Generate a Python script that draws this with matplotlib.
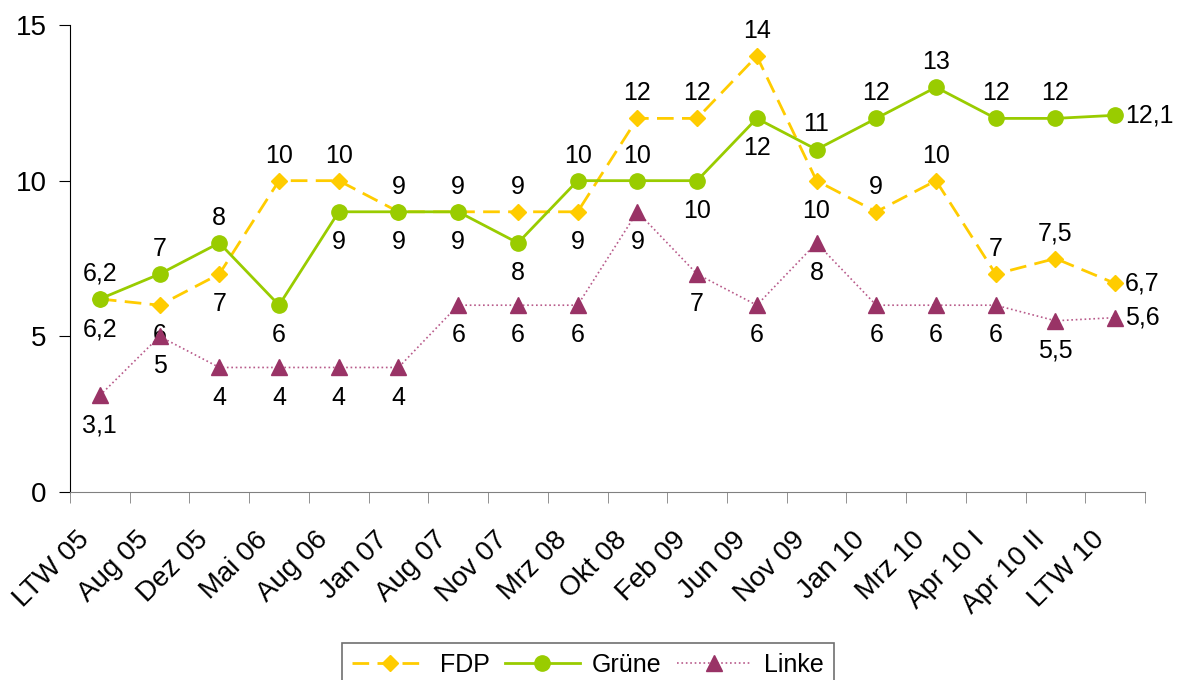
import matplotlib
matplotlib.use('Agg')
import matplotlib.pyplot as plt
import matplotlib.transforms as mtransforms
from matplotlib.ticker import FixedLocator

plt.rcParams['font.family'] = ['Liberation Sans', 'DejaVu Sans']

# Umfragewerte (Prozent)
categories = ['LTW 05', 'Aug 05', 'Dez 05', 'Mai 06', 'Aug 06', 'Jan 07', 'Aug 07',
              'Nov 07', 'Mrz 08', 'Okt 08', 'Feb 09', 'Jun 09', 'Nov 09', 'Jan 10',
              'Mrz 10', 'Apr 10 I', 'Apr 10 II', 'LTW 10']
fdp = [6.2, 6, 7, 10, 10, 9, 9, 9, 9, 12, 12, 14, 10, 9, 10, 7, 7.5, 6.7]
gruene = [6.2, 7, 8, 6, 9, 9, 9, 8, 10, 10, 10, 12, 11, 12, 13, 12, 12, 12.1]
linke = [3.1, 5, 4, 4, 4, 4, 6, 6, 6, 9, 7, 6, 8, 6, 6, 6, 5.5, 5.6]

# Lage der Datenbeschriftungen: a = oben, b = unten, r = rechts
fdp_pos = ['b', 'b', 'b', 'a', 'a', 'a', 'a', 'a', 'b', 'a', 'a', 'a', 'b', 'a', 'a', 'a', 'a', 'r']
gruene_pos = ['a', 'a', 'a', 'b', 'b', 'b', 'b', 'b', 'a', 'a', 'b', 'b', 'a', 'a', 'a', 'a', 'a', 'r']
linke_pos = ['b'] * 17 + ['r']

fig = plt.figure(figsize=(11.78, 6.8), dpi=100)
ax = fig.add_axes([70 / 1178, (680 - 492) / 680, (1145 - 70) / 1178, (492 - 25) / 680])

x = list(range(len(categories)))
ax.plot(x, fdp, color='#FFCC00', lw=2, dashes=(6, 3), marker='D', ms=8.5,
        mec='#FFCC00', label='FDP', zorder=3)
ax.plot(x, gruene, color='#99CC00', lw=2, marker='o', ms=11,
        label='Grüne', zorder=4)
ax.plot(x, linke, color='#B85A8A', lw=1.2, ls=':', marker='^', ms=12,
        mfc='#993366', mec='#993366', label='Linke', zorder=5)


def fmt(v):
    return ('%g' % v).replace('.', ',')


def labels(values, pos):
    for i, (v, p) in enumerate(zip(values, pos)):
        if p == 'a':
            ax.annotate(fmt(v), (i, v), xytext=(0, 13), textcoords='offset points',
                        ha='center', va='baseline', fontsize=18)
        elif p == 'b':
            ax.annotate(fmt(v), (i, v), xytext=(0, -13), textcoords='offset points',
                        ha='center', va='top', fontsize=18)
        else:
            ax.annotate(fmt(v), (i, v), xytext=(7, 0), textcoords='offset points',
                        ha='left', va='center', fontsize=18)


labels(fdp, fdp_pos)
labels(gruene, gruene_pos)
labels(linke, linke_pos)

ax.set_xlim(-0.5, len(categories) - 0.5)
ax.set_ylim(0, 15)
ax.set_yticks([0, 5, 10, 15])
ax.tick_params(axis='y', labelsize=20, length=8, direction='out', pad=9)

ax.set_xticks(x)
ax.set_xticklabels(categories, rotation=45, ha='right', va='top',
                   rotation_mode='anchor', fontsize=20)
ax.xaxis.set_minor_locator(FixedLocator([i - 0.5 for i in range(len(categories) + 1)]))
ax.tick_params(axis='x', which='major', length=0, pad=25)
ax.tick_params(axis='x', which='minor', length=8, color='#808080', direction='out')
shift = mtransforms.ScaledTranslation(-24 / 100, 0, fig.dpi_scale_trans)
for lab in ax.get_xticklabels():
    lab.set_transform(lab.get_transform() + shift)

for s in ['top', 'right']:
    ax.spines[s].set_visible(False)
ax.spines['bottom'].set_color('#808080')
ax.spines['left'].set_color('black')

leg = fig.legend(loc='upper center', bbox_to_anchor=(588 / 1178, 1 - 643 / 680), ncol=3,
                 fontsize=18, numpoints=1, handlelength=3.0, handletextpad=0.5,
                 columnspacing=0.6, borderpad=0.4, fancybox=False, framealpha=1,
                 edgecolor='#707070', borderaxespad=0)
leg.get_frame().set_linewidth(1.2)

fig.savefig('out.png', dpi=100)
